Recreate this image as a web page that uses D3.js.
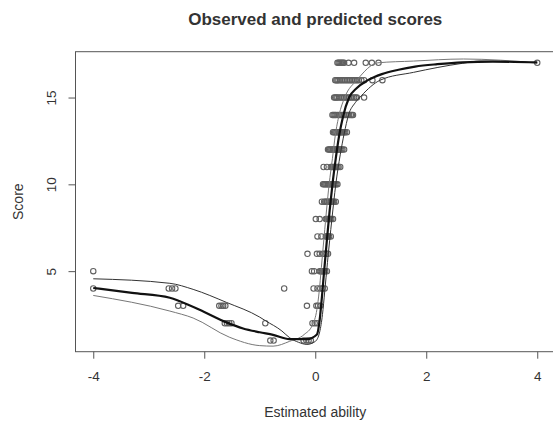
<!DOCTYPE html>
<html lang="en">
  <head>
    <meta charset="utf-8">
    <title>Observed and predicted scores</title>
    <script src="https://cdn.jsdelivr.net/npm/d3@7/dist/d3.min.js"></script>
    <style>
      body { margin: 0; background: #fff; }
      text { font-family: "Liberation Sans", Arial, sans-serif; fill: #333; }
    </style>
  </head>
  <body>
    <script>
      // observed scores: abilities[i] holds the estimated abilities of people with scores[i]
      var scores = [1, 2, 3, 4, 5, 6, 7, 8, 9, 10, 11, 12, 13, 14, 15, 16, 17];
      var abilities = [
        [-0.81, -0.75, -0.21, -0.16, -0.12, -0.08],
        [-1.63, -1.59, -1.55, -1.51, -0.9, -0.05, -0.01, 0.03],
        [-2.47, -2.38, -1.73, -1.69, -1.66, -1.62, -0.15, 0.02, 0.05, 0.09],
        [-4.0, -2.64, -2.58, -2.52, -0.56, -0.03, 0.04, 0.09, 0.13, 0.17],
        [-4.0, -0.06, -0.02, 0.08, 0.1, 0.12, 0.14, 0.16, 0.18, 0.21],
        [-0.14, 0.03, 0.08, 0.14, 0.17, 0.2, 0.23],
        [0.04, 0.11, 0.19, 0.21, 0.23, 0.25, 0.28],
        [0.01, 0.08, 0.19, 0.21, 0.23, 0.25, 0.27, 0.29, 0.32],
        [0.12, 0.16, 0.18, 0.2, 0.22, 0.24, 0.26, 0.28, 0.3, 0.32, 0.34, 0.37],
        [0.14, 0.16, 0.18, 0.2, 0.22, 0.24, 0.26, 0.28, 0.3, 0.32, 0.34, 0.36, 0.38, 0.4],
        [0.15, 0.21, 0.28, 0.3, 0.32, 0.34, 0.36, 0.38, 0.4, 0.42, 0.45],
        [0.23, 0.25, 0.27, 0.29, 0.31, 0.33, 0.35, 0.37, 0.39, 0.41, 0.43, 0.45, 0.47, 0.49, 0.52],
        [0.32, 0.34, 0.36, 0.38, 0.4, 0.42, 0.44, 0.46, 0.48, 0.5, 0.52, 0.54, 0.57],
        [0.31, 0.33, 0.35, 0.37, 0.4, 0.43, 0.46, 0.49, 0.52, 0.55, 0.58, 0.61, 0.64, 0.66, 0.68],
        [0.34, 0.36, 0.38, 0.4, 0.43, 0.46, 0.49, 0.52, 0.55, 0.58, 0.61, 0.64, 0.67, 0.7, 0.73, 0.75, 0.88],
        [0.36, 0.38, 0.4, 0.42, 0.45, 0.48, 0.51, 0.54, 0.57, 0.6, 0.63, 0.66, 0.69, 0.72, 0.75, 0.78, 0.83, 0.88, 1.03, 1.21],
        [0.4, 0.42, 0.44, 0.46, 0.48, 0.5, 0.52, 0.6, 0.7, 0.91, 1.02, 1.14, 4.0]
      ];

      // predicted score (thick line)
      var predAbility = [-4, -3.3, -2.62, -2.44, -2.0, -1.6, -1.3, -1.0, -0.76, -0.46, -0.15, 0.03, 0.08, 0.12, 0.16, 0.21, 0.26, 0.31, 0.37, 0.43, 0.5, 0.61, 0.75, 0.95, 1.2, 1.5, 1.8, 2.2, 2.65, 3.2, 4.0];
      var predScore = [4.03, 3.75, 3.47, 3.27, 2.65, 2.05, 1.7, 1.48, 1.33, 1.08, 1.08, 1.35, 2.2, 3.5, 5.0, 6.8, 8.5, 10, 11.5, 12.8, 13.9, 15, 15.55, 16.0, 16.35, 16.6, 16.78, 16.92, 17.03, 17.07, 17.02];

      // band that starts on top at the left
      var bandAAbility = [-4, -2.62, -2.2, -1.6, -1.0, -0.9, -0.6, -0.46, -0.3, -0.15, 0.0, 0.08, 0.13, 0.17, 0.22, 0.3, 0.37, 0.45, 0.52, 0.6, 0.72, 0.83, 1.17, 1.77, 2.65, 2.97, 4.0];
      var bandAScore = [4.56, 4.3, 3.95, 3.2, 2.35, 2.15, 1.55, 1.16, 0.9, 0.78, 0.95, 1.5, 2.5, 3.8, 5.5, 8.0, 10, 11.7, 12.9, 14, 14.7, 15.1, 16.0, 16.45, 16.97, 17.1, 17.0];

      // band that starts below at the left
      var bandBAbility = [-4, -2.62, -2.2, -1.55, -1.0, -0.76, -0.46, -0.2, -0.05, 0.03, 0.07, 0.11, 0.16, 0.25, 0.31, 0.36, 0.43, 0.53, 0.75, 1.13, 1.77, 2.67, 4.0];
      var bandBScore = [3.6, 2.7, 2.3, 1.2, 0.71, 0.68, 0.96, 1.35, 1.9, 2.8, 3.8, 5.2, 7.0, 10, 11.5, 12.8, 14, 15, 16, 17.0, 17.1, 17.22, 17.0];

      var xTicks = [-4, -2, 0, 2, 4];
      var yTicks = [5, 10, 15];

      var w = 553;
      var h = 423;
      var plotLeft = 75.5, plotRight = 555, plotTop = 51.7, plotBottom = 351.7;

      // R style axis ranges: data range stretched by 4% each side
      var xExt = [-4, 4], yExt = [1, 17];
      var xPad = (xExt[1] - xExt[0]) * 0.04, yPad = (yExt[1] - yExt[0]) * 0.04;

      var xScale = d3.scaleLinear()
                     .domain([xExt[0] - xPad, xExt[1] + xPad])
                     .range([plotLeft, plotRight]);

      var yScale = d3.scaleLinear()
                     .domain([yExt[0] - yPad, yExt[1] + yPad])
                     .range([plotBottom, plotTop]);

      var svg = d3.select("body")
                  .append("svg")
                  .attr("width", w)
                  .attr("height", h);

      svg.append("rect")
         .attr("width", w)
         .attr("height", h)
         .attr("fill", "#fff");

      // observed points
      scores.forEach(function(s, i) {
        svg.append("g")
           .selectAll("circle")
           .data(abilities[i])
           .enter()
           .append("circle")
           .attr("cx", function(d) { return xScale(d); })
           .attr("cy", yScale(s))
           .attr("r", 2.7)
           .attr("fill", "none")
           .attr("stroke", "#606060")
           .attr("stroke-width", 1.1);
      });

      var line = d3.line()
                   .x(function(d) { return xScale(d[0]); })
                   .y(function(d) { return yScale(d[1]); })
                   .curve(d3.curveMonotoneX);

      svg.append("path")
         .datum(d3.zip(bandBAbility, bandBScore))
         .attr("d", line)
         .attr("fill", "none")
         .attr("stroke", "#777")
         .attr("stroke-width", 1);

      svg.append("path")
         .datum(d3.zip(bandAAbility, bandAScore))
         .attr("d", line)
         .attr("fill", "none")
         .attr("stroke", "#333")
         .attr("stroke-width", 1);

      svg.append("path")
         .datum(d3.zip(predAbility, predScore))
         .attr("d", line)
         .attr("fill", "none")
         .attr("stroke", "#111")
         .attr("stroke-width", 2.2);

      // box round the plot
      svg.append("rect")
         .attr("x", plotLeft)
         .attr("y", plotTop)
         .attr("width", plotRight - plotLeft)
         .attr("height", plotBottom - plotTop)
         .attr("fill", "none")
         .attr("stroke", "#555")
         .attr("stroke-width", 1);

      var xAxis = d3.axisBottom(xScale)
                    .tickValues(xTicks)
                    .tickSize(7)
                    .tickPadding(13)
                    .tickFormat(d3.format("d"));

      var yAxis = d3.axisLeft(yScale)
                    .tickValues(yTicks)
                    .tickSize(7);

      var gx = svg.append("g")
                  .attr("transform", "translate(0," + plotBottom + ")")
                  .call(xAxis);

      var gy = svg.append("g")
                  .attr("transform", "translate(" + plotLeft + ",0)")
                  .call(yAxis);

      [gx, gy].forEach(function(g) {
        g.select(".domain").remove();
        g.selectAll("line").attr("stroke", "#555");
        g.selectAll("text")
         .attr("font-family", "Liberation Sans, Arial, sans-serif")
         .attr("font-size", 13.5)
         .attr("fill", "#333");
      });

      // R draws y tick labels parallel to the axis
      gy.selectAll("text")
        .attr("x", null)
        .attr("dy", null)
        .attr("text-anchor", "middle")
        .attr("transform", "translate(-19.5,0) rotate(-90)");

      gx.selectAll("text").text(function(d) { return d < 0 ? "-" + Math.abs(d) : d; });

      svg.append("text")
         .attr("x", (plotLeft + plotRight) / 2)
         .attr("y", 25)
         .attr("text-anchor", "middle")
         .attr("font-size", 17)
         .attr("font-weight", "bold")
         .attr("fill", "#222")
         .text("Observed and predicted scores");

      svg.append("text")
         .attr("x", (plotLeft + plotRight) / 2)
         .attr("y", 417)
         .attr("text-anchor", "middle")
         .attr("font-size", 14)
         .text("Estimated ability");

      svg.append("text")
         .attr("transform", "translate(23," + ((plotTop + plotBottom) / 2) + ") rotate(-90)")
         .attr("text-anchor", "middle")
         .attr("font-size", 14)
         .text("Score");
    </script>
  </body>
</html>
